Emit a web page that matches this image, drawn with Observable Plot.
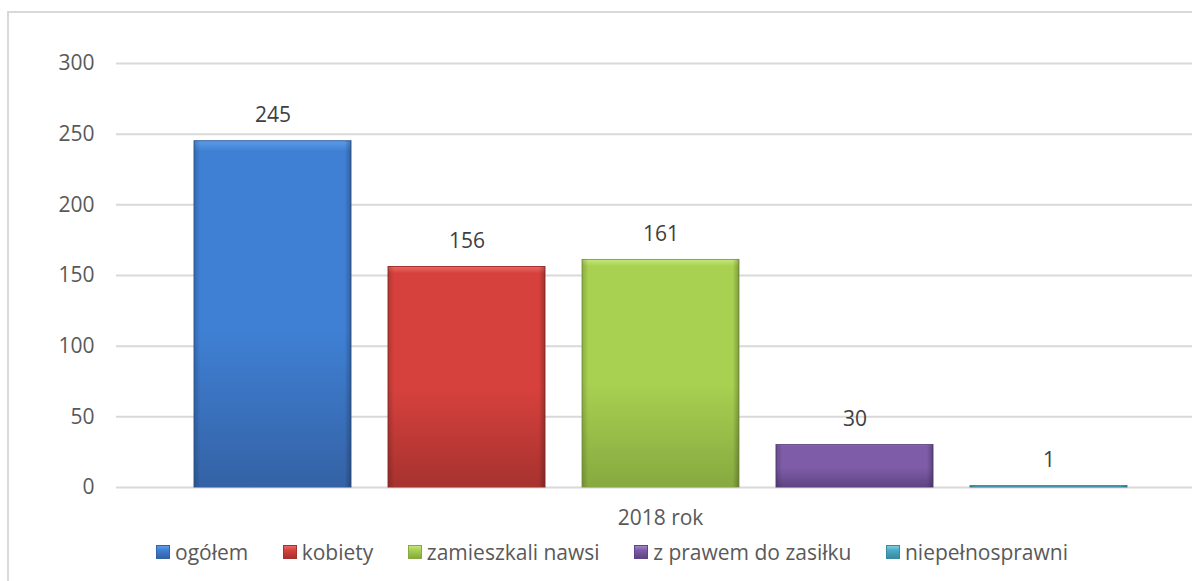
<!DOCTYPE html>
<html>
<head>
<meta charset="utf-8">
<script src="https://cdn.jsdelivr.net/npm/d3@7"></script>
<script src="https://cdn.jsdelivr.net/npm/@observablehq/plot@0.6"></script>
<style>
  html, body { margin: 0; padding: 0; background: #fff; overflow: hidden; width: 1192px; height: 581px; }
  #frame { position: absolute; left: 7px; top: 11px; width: 1300px; height: 700px; border: 2px solid #d9d9d9; box-sizing: border-box; }
  #chart { position: absolute; left: 0; top: 0; width: 1204px; }
  #chart svg { max-width: none !important; }
  #legend { position: absolute; left: 156px; top: 538px; display: flex; align-items: center; font-family: "Open Sans", sans-serif; font-size: 21px; color: #595959; white-space: nowrap; }
  .item { display: flex; align-items: center; margin-right: 34.5px; }
  .sw { width: 14px; height: 14px; margin-right: 5px; box-sizing: border-box; }
</style>
</head>
<body>
<div id="frame"></div>
<div id="chart"></div>
<div id="legend"></div>
<script>
const categories = ["ogółem", "kobiety", "zamieszkali nawsi", "z prawem do zasiłku", "niepełnosprawni"];
const values = [245, 156, 161, 30, 1];
const colorsTop = ["#5c9be6", "#ea6a66", "#c4e67a", "#a183cc", "#7ccde2"];
const colorsMid = ["#3f80d4", "#d7413d", "#a8d051", "#7e5ca8", "#4bacc6"];
const colorsBottom = ["#3462a5", "#a6322f", "#87a940", "#5f4583", "#3a8aa0"];
const groupLabel = "2018 rok";
const yTicks = [0, 50, 100, 150, 200, 250, 300];

const data = categories.map((c, i) => ({cat: c, value: values[i], idx: i}));

const chart = Plot.plot({
  width: 1204,
  height: 530,
  marginLeft: 116,
  marginRight: 0,
  marginTop: 63,
  marginBottom: 43,
  style: {fontFamily: "Open Sans, sans-serif", fontSize: "21px", color: "#595959", background: "transparent", overflow: "visible", maxWidth: "none"},
  x: {domain: categories, range: [174.5, 1146], paddingInner: 0.19, paddingOuter: 0.095, axis: null},
  y: {domain: [0, 300], ticks: yTicks, tickSize: 0, tickPadding: 22, label: null, tickFormat: d => String(d)},
  marks: [
    Plot.ruleY(yTicks, {stroke: "#d9d9d9", strokeWidth: 2}),
    Plot.barY(data, {x: "cat", y: "value", fill: d => `url(#gv${d.idx})`, stroke: d => colorsBottom[d.idx], strokeWidth: 1}),
    Plot.barY(data, {x: "cat", y: "value", fill: "url(#gh)"}),
    Plot.text(data, {x: "cat", y: "value", text: d => String(d.value), dy: -26, lineAnchor: "middle", fill: "#404040", fontSize: 21}),
    Plot.text([groupLabel], {frameAnchor: "bottom", text: d => d, dy: 31, lineAnchor: "middle", fill: "#595959", fontSize: 21})
  ]
});

const svg = d3.select(chart);
const defs = svg.insert("defs", ":first-child");
categories.forEach((c, i) => {
  const g = defs.append("linearGradient").attr("id", "gv" + i).attr("x1", 0).attr("y1", 0).attr("x2", 0).attr("y2", 1);
  g.append("stop").attr("offset", "0%").attr("stop-color", colorsTop[i]);
  g.append("stop").attr("offset", "3%").attr("stop-color", colorsMid[i]);
  g.append("stop").attr("offset", "55%").attr("stop-color", colorsMid[i]);
  g.append("stop").attr("offset", "100%").attr("stop-color", colorsBottom[i]);
});
const gh = defs.append("linearGradient").attr("id", "gh").attr("x1", 0).attr("y1", 0).attr("x2", 1).attr("y2", 0);
gh.append("stop").attr("offset", "0%").attr("stop-color", "#000").attr("stop-opacity", 0.18);
gh.append("stop").attr("offset", "4%").attr("stop-color", "#000").attr("stop-opacity", 0);
gh.append("stop").attr("offset", "96%").attr("stop-color", "#000").attr("stop-opacity", 0);
gh.append("stop").attr("offset", "100%").attr("stop-color", "#000").attr("stop-opacity", 0.25);

chart.style.maxWidth = "none";
document.getElementById("chart").appendChild(chart);

const legend = document.getElementById("legend");
categories.forEach((c, i) => {
  const item = document.createElement("div");
  item.className = "item";
  const sw = document.createElement("div");
  sw.className = "sw";
  sw.style.background = `linear-gradient(to bottom, ${colorsTop[i]} 0%, ${colorsMid[i]} 35%, ${colorsBottom[i]} 100%)`;
  sw.style.border = `1px solid ${colorsBottom[i]}`;
  const t = document.createElement("span");
  t.textContent = c;
  item.appendChild(sw);
  item.appendChild(t);
  legend.appendChild(item);
});
</script>
</body>
</html>
